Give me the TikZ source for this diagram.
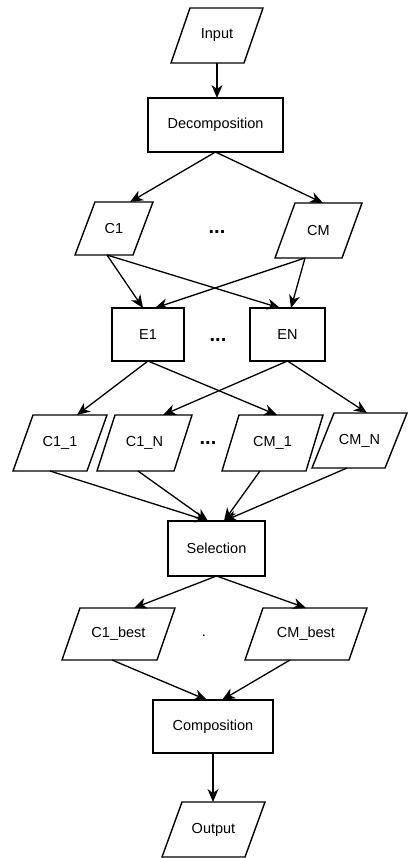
\documentclass[tikz,border=0pt]{standalone}
\usepackage{fontspec}
\setmainfont{Liberation Sans}
\usetikzlibrary{arrows.meta}

\tikzset{
  boxline/.style={line width=1.4pt, line join=miter},
  labelfont/.style={font=\fontsize{14.5}{17}\selectfont},
  slanted/.style={rectangle, inner sep=0pt, outer sep=0pt, labelfont},
  procbox/.style={rectangle, draw, boxline, inner sep=0pt, outer sep=0pt, labelfont},
  flow/.style={line width=1.3pt, -{Stealth[length=13pt,width=11pt,inset=4pt]}},
  gap/.style={inner sep=0pt, font=\fontsize{20}{20}\selectfont\bfseries},
}

% data parallelogram: name, centre, total width, height, slant, text
\newcommand{\slantbox}[6]{%
  \node[slanted, minimum width=#3, minimum height=#4] (#1) at (#2) {#6};
  \draw[boxline] ([xshift=#5]#1.north west) -- (#1.north east)
    -- ([xshift=-#5]#1.south east) -- (#1.south west) -- cycle;}

\begin{document}
\begin{tikzpicture}[x=1pt, y=-1pt]
\useasboundingbox (0,0) rectangle (407,858);

% inputs and outputs
\slantbox{inp}{217,35.5}{92}{55}{19}{Input}
\slantbox{c1}{114,228.5}{78}{53}{20}{C1}
\slantbox{cm}{318.5,230.5}{87}{55}{20}{CM}
\slantbox{c11}{60,443}{94}{56}{20}{C1\_1}
\slantbox{c1n}{144.5,443}{95}{56}{18}{C1\_N}
\slantbox{cm1}{272.5,443}{101}{56}{17}{CM\_1}
\slantbox{cmn}{359.5,440.5}{95}{55}{22}{CM\_N}
\slantbox{c1b}{118.5,634}{113}{52}{18}{C1\_best}
\slantbox{cmb}{306,634}{122}{52}{18}{CM\_best}
\slantbox{outp}{213.5,829.5}{103}{55}{20}{Output}

% processing steps
\node[procbox, minimum width=135, minimum height=54] (dec) at (215.5,125) {Decomposition};
\node[procbox, minimum width=72, minimum height=53] (e1) at (148,334.5) {E1};
\node[procbox, minimum width=75, minimum height=53] (en) at (287.5,334.5) {EN};
\node[procbox, minimum width=97, minimum height=55] (sel) at (216.5,548.5) {Selection};
\node[procbox, minimum width=120, minimum height=53] (comp) at (213,726.5) {Composition};

% ellipses between repeated items
\node[gap] (g1) at (217,232) {...};
\node[gap] (g2) at (218,340) {...};
\node[gap] (g3) at (208,443) {...};
\node[inner sep=0pt, labelfont] (g4) at (204,636) {.};

% connectors
\draw[flow] (inp.south) -- (inp.south |- dec.north);
\draw[flow] (dec.south) -- ([xshift=16]c1.north);
\draw[flow] (dec.south) -- ([xshift=4.5]cm.north);

\draw[flow] ([xshift=-7]c1.south) -- ([xshift=-5]e1.north);
\draw[flow] ([xshift=-7]c1.south) -- ([xshift=-7.5]en.north);
\draw[flow] ([xshift=-13.5]cm.south) -- ([xshift=7]e1.north);
\draw[flow] ([xshift=-13.5]cm.south) -- ([xshift=3.5]en.north);

\draw[flow] (e1.south) -- ([xshift=17]c11.north);
\draw[flow] (e1.south) -- ([xshift=4.5]cm1.north);
\draw[flow] (en.south) -- ([xshift=18.5]c1n.north);
\draw[flow] (en.south) -- ([xshift=7.5]cmn.north);

\draw[flow] ([xshift=-10]c11.south) -- ([xshift=-8.5]sel.north);
\draw[flow] ([xshift=-6.5]c1n.south) -- ([xshift=-8.5]sel.north);
\draw[flow] ([xshift=-12.5]cm1.south) -- ([xshift=7.5]sel.north);
\draw[flow] ([xshift=-12.5]cmn.south) -- ([xshift=7.5]sel.north);

\draw[flow] (sel.south) -- ([xshift=15.5]c1b.north);
\draw[flow] (sel.south) -- (cmb.north);

\draw[flow] ([xshift=-6.5]c1b.south) -- ([xshift=-6]comp.north);
\draw[flow] ([xshift=-16]cmb.south) -- ([xshift=9]comp.north);

\draw[flow] (comp.south) -- (comp.south |- outp.north);
\end{tikzpicture}
\end{document}
